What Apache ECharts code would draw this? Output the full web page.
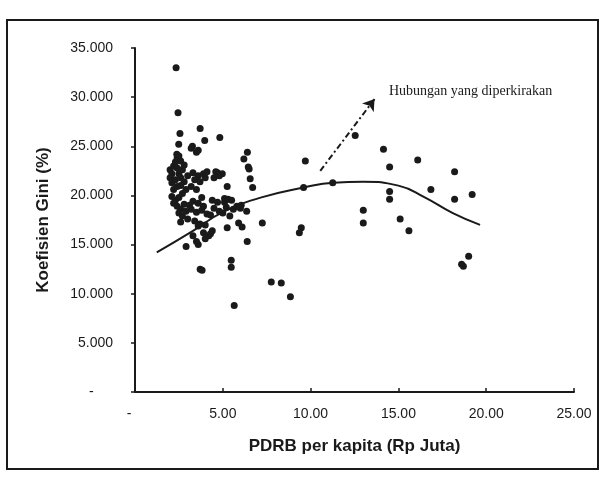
<!DOCTYPE html>
<html>
<head>
<meta charset="utf-8">
<script src="https://cdn.jsdelivr.net/npm/echarts@6/dist/echarts.min.js"></script>
<style>
html,body{margin:0;padding:0;background:#fff;}
#chart{width:606px;height:477px;}
</style>
</head>
<body>
<div id="chart"></div>
<script>
// Scatter data: PDRB per kapita (Rp Juta) vs Koefisien Gini (%)
var pdrbX = [
  2.34,2.45,2.56,2.49,3.71,3.97,4.83,3.27,3.6,2.38,6.4,6.2,6.45,6.5,6.56,6.7,
  9.7,12.54,14.15,14.5,16.1,18.2,16.85,14.5,14.5,18.2,19.2,13.0,13.0,15.1,15.6,
  18.6,18.7,19.0,11.26,9.6,9.47,9.36,7.25,6.39,6.1,7.76,8.33,8.85,5.65,5.48,5.48,
  3.71,3.82,5.25,2.91,3.6,5.25,6.05,6.36,4.7,4.97,5.1,
  2.0,2.1,2.0,2.2,2.3,2.4,2.5,2.6,2.1,2.3,2.5,2.7,2.2,2.4,2.6,2.8,2.1,2.3,2.5,2.7,2.9,
  2.2,2.4,2.6,2.8,2.5,2.7,2.9,2.6,3.0,2.4,2.6,2.8,3.0,3.1,
  3.2,3.5,3.3,3.6,3.9,4.1,3.4,3.7,4.0,3.2,3.5,3.8,3.3,3.6,3.9,3.2,3.5,3.8,4.1,3.4,3.7,4.0,
  3.6,3.9,4.2,4.0,4.3,3.5,3.3,4.4,
  4.6,4.5,4.8,4.4,4.7,4.5,4.8,4.3,
  5.1,5.3,5.5,5.2,5.6,5.0,5.4,5.8,6.0,5.9
];
var giniY = [
  33.0,28.4,26.3,25.2,26.8,25.6,25.9,25.0,24.6,24.2,24.4,23.7,22.9,22.7,21.7,20.8,
  23.5,26.1,24.7,22.9,23.6,22.4,20.6,20.4,19.6,19.6,20.1,18.5,17.2,17.6,16.4,
  13.0,12.8,13.8,21.3,20.8,16.7,16.2,17.2,15.3,16.8,11.2,11.1,9.7,8.8,13.4,12.7,
  12.5,12.4,16.7,14.8,15.0,20.9,19.0,18.4,22.3,22.2,19.3,
  22.6,22.2,21.8,23.0,23.4,23.8,24.0,23.5,21.3,21.6,22.2,22.6,20.6,20.9,21.0,21.4,19.9,19.5,19.8,20.2,20.6,
  19.2,18.9,18.6,19.1,18.2,17.9,18.4,17.3,17.6,22.8,21.8,23.1,22.0,19.0,
  24.8,24.4,22.3,22.0,22.2,22.4,21.6,21.4,21.8,20.9,20.6,19.8,19.4,19.2,18.9,18.6,18.3,18.5,18.1,17.4,17.1,17.0,
  16.9,16.2,15.9,15.6,16.1,15.3,15.9,16.4,
  22.4,21.8,22.0,19.5,19.3,18.7,18.4,18.0,
  19.7,19.6,19.5,18.8,18.6,18.2,17.9,18.9,18.7,17.2
];
// Fitted curve ("hubungan yang diperkirakan")
var curveX = [1.24, 3.3, 5.0, 7.2, 9.6, 11.3, 13.0, 15.0, 16.5, 18.1, 19.65];
var curveY = [14.2, 16.4, 18.3, 19.8, 20.8, 21.3, 21.4, 21.0, 19.8, 18.2, 17.0];
// Arrow start/end
var arrowX = [10.55, 13.64];
var arrowY = [22.5, 29.8];
var annotationText = 'Hubungan yang diperkirakan';
var xTitle = 'PDRB per kapita (Rp Juta)';
var yTitle = 'Koefisien Gini (%)';

var scatterData = pdrbX.map(function(x, i){ return [x, giniY[i]]; });
var curveData = curveX.map(function(x, i){ return [x, curveY[i]]; });

var chart = echarts.init(document.getElementById('chart'), null, {renderer:'canvas'});
var ink = '#1a1a1a';
chart.setOption({
  backgroundColor: '#ffffff',
  animation: false,
  grid: {left: 135, right: 32, top: 48, bottom: 85},
  xAxis: {
    type: 'value', min: 0, max: 25, interval: 5,
    name: xTitle, nameLocation: 'middle', nameGap: 46,
    nameTextStyle: {fontFamily: 'Liberation Sans', fontWeight: 'bold', fontSize: 17, color: ink},
    axisLine: {lineStyle: {color: ink, width: 2}},
    axisTick: {show: true, inside: true, length: 4, lineStyle: {color: ink, width: 1.5}},
    axisLabel: {margin: 15, fontFamily: 'Liberation Sans', fontSize: 14, color: ink,
      formatter: function(v){ return v === 0 ? '-   ' : v.toFixed(2); }},
    splitLine: {show: false}
  },
  yAxis: {
    type: 'value', min: 0, max: 35, interval: 5,
    name: yTitle, nameLocation: 'middle', nameGap: 83,
    nameTextStyle: {fontFamily: 'Liberation Sans', fontWeight: 'bold', fontSize: 17, color: ink},
    axisLine: {show: true, lineStyle: {color: ink, width: 2}},
    axisTick: {show: true, inside: false, length: 4, lineStyle: {color: ink, width: 1.5}},
    axisLabel: {margin: 22, fontFamily: 'Liberation Sans', fontSize: 14, color: ink,
      formatter: function(v){ return v === 0 ? '-     ' : v.toFixed(3); }},
    splitLine: {show: false}
  },
  series: [
    {
      type: 'scatter', data: scatterData, symbol: 'circle', symbolSize: 7,
      itemStyle: {color: ink, opacity: 1}, silent: true,
      markLine: {
        silent: true, symbol: ['none', 'arrow'], symbolSize: 11,
        label: {show: false},
        lineStyle: {color: ink, width: 2, type: [6, 3, 2, 3], opacity: 1},
        emphasis: {disabled: true},
        data: [[{coord: [arrowX[0], arrowY[0]]}, {coord: [arrowX[1], arrowY[1]]}]]
      }
    },
    {
      type: 'line', data: curveData, smooth: 0.5, showSymbol: false, symbol: 'none',
      lineStyle: {color: ink, width: 2}, silent: true
    }
  ],
  graphic: [
    {type: 'rect', shape: {x: 7, y: 20, width: 591, height: 449}, z: 0,
     style: {fill: 'none', stroke: ink, lineWidth: 2}},
    {type: 'text', left: 389, top: 84, z: 10,
     style: {text: annotationText, font: '14px "Liberation Serif"', fill: ink}}
  ]
});
</script>
</body>
</html>
